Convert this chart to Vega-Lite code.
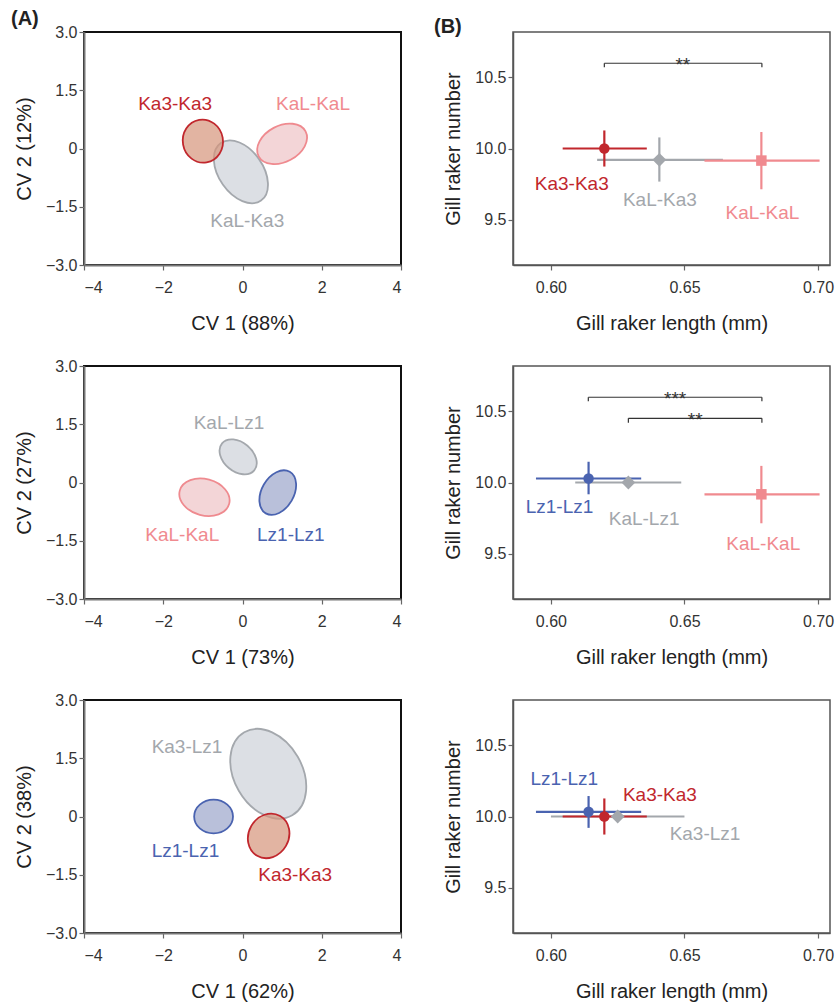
{
  "$schema": "https://vega.github.io/schema/vega-lite/v6.json",
  "background": "white",
  "padding": {"left": 10, "top": 8, "right": 2, "bottom": 2},
  "datasets": {
    "ell": [
      {"panel": 1, "id": "e1b", "group": "KaL-Ka3", "cv1": -0.04, "cv2": -0.60, "major": 1.77, "angle": 55},
      {"panel": 1, "id": "e1c", "group": "KaL-KaL", "cv1": 1.0, "cv2": 0.12, "major": 1.34, "angle": -28},
      {"panel": 1, "id": "e1a", "group": "Ka3-Ka3", "cv1": -1.0, "cv2": 0.19, "major": 1.09, "angle": 80},
      {"panel": 2, "id": "e2a", "group": "KaL-Lz1", "cv1": -0.11, "cv2": 0.66, "major": 1.06, "angle": 40},
      {"panel": 2, "id": "e2b", "group": "KaL-KaL", "cv1": -0.96, "cv2": -0.38, "major": 1.29, "angle": 15},
      {"panel": 2, "id": "e2c", "group": "Lz1-Lz1", "cv1": 0.89, "cv2": -0.26, "major": 1.21, "angle": -60},
      {"panel": 3, "id": "e3a", "group": "Ka3-Lz1", "cv1": 0.65, "cv2": 1.10, "major": 2.42, "angle": 60},
      {"panel": 3, "id": "e3b", "group": "Lz1-Lz1", "cv1": -0.73, "cv2": 0.0, "major": 0.98, "angle": 0},
      {"panel": 3, "id": "e3c", "group": "Ka3-Ka3", "cv1": 0.66, "cv2": -0.50, "major": 1.16, "angle": -60}
    ],
    "ellLab": [
      {"panel": 1, "group": "Ka3-Ka3", "cv1": -1.70, "cv2": 1.14},
      {"panel": 1, "group": "KaL-KaL", "cv1": 1.78, "cv2": 1.14},
      {"panel": 1, "group": "KaL-Ka3", "cv1": 0.12, "cv2": -1.86},
      {"panel": 2, "group": "KaL-Lz1", "cv1": -0.34, "cv2": 1.52},
      {"panel": 2, "group": "KaL-KaL", "cv1": -1.52, "cv2": -1.36},
      {"panel": 2, "group": "Lz1-Lz1", "cv1": 1.22, "cv2": -1.36},
      {"panel": 3, "group": "Ka3-Lz1", "cv1": -1.40, "cv2": 1.78},
      {"panel": 3, "group": "Lz1-Lz1", "cv1": -1.44, "cv2": -0.88},
      {"panel": 3, "group": "Ka3-Ka3", "cv1": 1.33, "cv2": -1.51}
    ],
    "pts": [
      {"panel": 1, "group": "KaL-Ka3", "len": 0.6406, "lenLo": 0.6173, "lenHi": 0.6644, "num": 9.92, "numLo": 9.767, "numHi": 10.078},
      {"panel": 1, "group": "KaL-KaL", "len": 0.6788, "lenLo": 0.6575, "lenHi": 0.7006, "num": 9.915, "numLo": 9.713, "numHi": 10.116},
      {"panel": 1, "group": "Ka3-Ka3", "len": 0.620, "lenLo": 0.6044, "lenHi": 0.6359, "num": 10.0, "numLo": 9.873, "numHi": 10.127},
      {"panel": 2, "group": "KaL-Lz1", "len": 0.629, "lenLo": 0.6091, "lenHi": 0.6488, "num": 10.0, "numLo": 9.995, "numHi": 10.005},
      {"panel": 2, "group": "KaL-KaL", "len": 0.6788, "lenLo": 0.6575, "lenHi": 0.7006, "num": 9.917, "numLo": 9.713, "numHi": 10.117},
      {"panel": 2, "group": "Lz1-Lz1", "len": 0.6141, "lenLo": 0.5944, "lenHi": 0.6338, "num": 10.028, "numLo": 9.917, "numHi": 10.146},
      {"panel": 3, "group": "Ka3-Lz1", "len": 0.625, "lenLo": 0.600, "lenHi": 0.650, "num": 10.0, "numLo": 9.995, "numHi": 10.005},
      {"panel": 3, "group": "Ka3-Ka3", "len": 0.620, "lenLo": 0.6044, "lenHi": 0.6359, "num": 10.0, "numLo": 9.873, "numHi": 10.127},
      {"panel": 3, "group": "Lz1-Lz1", "len": 0.6141, "lenLo": 0.5944, "lenHi": 0.6338, "num": 10.033, "numLo": 9.92, "numHi": 10.144}
    ],
    "ptsLab": [
      {"panel": 1, "group": "Ka3-Ka3", "len": 0.6078, "num": 9.749},
      {"panel": 1, "group": "KaL-Ka3", "len": 0.6408, "num": 9.638},
      {"panel": 1, "group": "KaL-KaL", "len": 0.6792, "num": 9.549},
      {"panel": 2, "group": "Lz1-Lz1", "len": 0.6032, "num": 9.829},
      {"panel": 2, "group": "KaL-Lz1", "len": 0.6349, "num": 9.743},
      {"panel": 2, "group": "KaL-KaL", "len": 0.6795, "num": 9.570},
      {"panel": 3, "group": "Lz1-Lz1", "len": 0.605, "num": 10.263},
      {"panel": 3, "group": "Ka3-Ka3", "len": 0.6408, "num": 10.153},
      {"panel": 3, "group": "Ka3-Lz1", "len": 0.6577, "num": 9.88}
    ],
    "sig": [
      {"panel": 1, "xa": 0.620, "xb": 0.679, "yb": 10.60, "yt": 10.572, "xs": 0.6494, "stars": "**"},
      {"panel": 2, "xa": 0.614, "xb": 0.679, "yb": 10.60, "yt": 10.572, "xs": 0.6465, "stars": "***"},
      {"panel": 2, "xa": 0.629, "xb": 0.679, "yb": 10.452, "yt": 10.42, "xs": 0.654, "stars": "**"}
    ]
  },
  "spacing": 23,
  "resolve": {"scale": {"shape": "independent", "size": "independent", "fill": "independent", "stroke": "independent"}},
  "vconcat": [
    {
      "spacing": 112,
      "bounds": "flush",
      "resolve": {"scale": {"shape": "independent", "size": "independent", "fill": "independent", "stroke": "independent"}},
      "hconcat": [
        {
          "width": 317, "height": 233,
          "title": {"text": "(A)", "frame": "group", "dx": -73, "offset": 0, "dy": 5},
          "view": {"stroke": "#111", "strokeWidth": 2},
          "layer": [
            {
              "data": {"name": "ell"},
              "transform": [{"filter": "datum.panel === 1"}],
              "mark": {"type": "point", "filled": true, "opacity": 1, "fillOpacity": 0.7, "strokeOpacity": 1, "strokeWidth": 1.8},
              "encoding": {
                "x": {"field": "cv1", "type": "quantitative", "scale": {"domain": [-4, 4], "nice": false, "zero": false}, "axis": {"title": "CV 1 (88%)", "values": [-4, -2, 0, 2, 4], "domainWidth": 2, "domainColor": "#777"}},
                "y": {"field": "cv2", "type": "quantitative", "scale": {"domain": [-3, 3], "nice": false, "zero": false}, "axis": {"title": "CV 2 (12%)", "values": [-3, -1.5, 0, 1.5, 3], "labelExpr": "datum.value === 0 ? '0' : format(datum.value, '.1f')", "domainWidth": 2, "domainColor": "#777"}},
                "shape": {"field": "id", "type": "nominal", "legend": null, "scale": {"domain": ["e1a", "e1b", "e1c", "e2a", "e2b", "e2c", "e3a", "e3b", "e3c"], "range": ["M-1,0A1,0.93,0,1,0,1,0A1,0.93,0,1,0,-1,0Z", "M-1,0A1,0.63,0,1,0,1,0A1,0.63,0,1,0,-1,0Z", "M-1,0A1,0.68,0,1,0,1,0A1,0.68,0,1,0,-1,0Z", "M-1,0A1,0.69,0,1,0,1,0A1,0.69,0,1,0,-1,0Z", "M-1,0A1,0.71,0,1,0,1,0A1,0.71,0,1,0,-1,0Z", "M-1,0A1,0.67,0,1,0,1,0A1,0.67,0,1,0,-1,0Z", "M-1,0A1,0.71,0,1,0,1,0A1,0.71,0,1,0,-1,0Z", "M-1,0A1,0.87,0,1,0,1,0A1,0.87,0,1,0,-1,0Z", "M-1,0A1,0.87,0,1,0,1,0A1,0.87,0,1,0,-1,0Z"]}},
                "size": {"field": "major", "type": "quantitative", "legend": null, "scale": {"type": "pow", "exponent": 2, "domain": [0, 8], "range": [0, 100489]}},
                "angle": {"field": "angle", "type": "quantitative", "scale": null},
                "fill": {"field": "group", "type": "nominal", "legend": null, "scale": {"domain": ["Ka3-Ka3", "KaL-KaL", "Lz1-Lz1", "KaL-Ka3", "KaL-Lz1", "Ka3-Lz1"], "range": ["#d6947a", "#eec3c6", "#9ba5ca", "#cdd1d8", "#cdd1d8", "#cdd1d8"]}},
                "stroke": {"field": "group", "type": "nominal", "legend": null, "scale": {"domain": ["Ka3-Ka3", "KaL-KaL", "Lz1-Lz1", "KaL-Ka3", "KaL-Lz1", "Ka3-Lz1"], "range": ["#c1272d", "#ef8a8f", "#4a63b0", "#a4a8ad", "#a4a8ad", "#a4a8ad"]}}
              }
            },
            {
              "data": {"name": "ellLab"},
              "transform": [{"filter": "datum.panel === 1"}],
              "mark": {"type": "text", "fontSize": 19, "baseline": "middle", "align": "center"},
              "encoding": {
                "x": {"field": "cv1", "type": "quantitative", "scale": {"domain": [-4, 4], "nice": false, "zero": false}, "axis": {"title": "CV 1 (88%)"}},
                "y": {"field": "cv2", "type": "quantitative", "scale": {"domain": [-3, 3], "nice": false, "zero": false}, "axis": {"title": "CV 2 (12%)"}},
                "text": {"field": "group"},
                "color": {"field": "group", "type": "nominal", "legend": null, "scale": {"domain": ["Ka3-Ka3", "KaL-KaL", "Lz1-Lz1", "KaL-Ka3", "KaL-Lz1", "Ka3-Lz1"], "range": ["#c1272d", "#f08a8f", "#4a63b0", "#a3a7ac", "#a3a7ac", "#a3a7ac"]}}
              }
            }
          ]
        },
        {
          "width": 317, "height": 233,
          "title": {"text": "(B)", "frame": "group", "dx": -79, "offset": 0, "dy": 5},
          "view": {"stroke": "#555", "strokeWidth": 1.5},
          "layer": [
            {
              "data": {"name": "pts"},
              "transform": [{"filter": "datum.panel === 1"}],
              "mark": {"type": "rule", "strokeWidth": 2.2},
              "encoding": {
                "x": {"field": "lenLo", "type": "quantitative", "scale": {"domain": [0.5858, 0.7045], "nice": false, "zero": false}, "axis": {"title": "Gill raker length (mm)", "values": [0.6, 0.65, 0.7], "format": ".2f"}},
                "x2": {"field": "lenHi"},
                "y": {"field": "num", "type": "quantitative", "scale": {"domain": [9.18, 10.82], "nice": false, "zero": false}, "axis": {"title": "Gill raker number", "values": [9.5, 10, 10.5], "format": ".1f"}},
                "color": {"field": "group", "type": "nominal", "legend": null, "scale": {"domain": ["Ka3-Ka3", "KaL-KaL", "Lz1-Lz1", "KaL-Ka3", "KaL-Lz1", "Ka3-Lz1"], "range": ["#c1272d", "#f08a8f", "#4a63b0", "#a3a7ac", "#a3a7ac", "#a3a7ac"]}}
              }
            },
            {
              "data": {"name": "pts"},
              "transform": [{"filter": "datum.panel === 1"}],
              "mark": {"type": "rule", "strokeWidth": 2.2},
              "encoding": {
                "x": {"field": "len", "type": "quantitative", "scale": {"domain": [0.5858, 0.7045], "nice": false, "zero": false}, "axis": {"title": "Gill raker length (mm)"}},
                "y": {"field": "numLo", "type": "quantitative", "scale": {"domain": [9.18, 10.82], "nice": false, "zero": false}, "axis": {"title": "Gill raker number"}},
                "y2": {"field": "numHi"},
                "color": {"field": "group", "type": "nominal", "legend": null, "scale": {"domain": ["Ka3-Ka3", "KaL-KaL", "Lz1-Lz1", "KaL-Ka3", "KaL-Lz1", "Ka3-Lz1"], "range": ["#c1272d", "#f08a8f", "#4a63b0", "#a3a7ac", "#a3a7ac", "#a3a7ac"]}}
              }
            },
            {
              "data": {"name": "pts"},
              "transform": [{"filter": "datum.panel === 1"}],
              "mark": {"type": "point", "filled": true, "opacity": 1, "size": 110},
              "encoding": {
                "x": {"field": "len", "type": "quantitative", "scale": {"domain": [0.5858, 0.7045], "nice": false, "zero": false}, "axis": {"title": "Gill raker length (mm)"}},
                "y": {"field": "num", "type": "quantitative", "scale": {"domain": [9.18, 10.82], "nice": false, "zero": false}, "axis": {"title": "Gill raker number"}},
                "shape": {"field": "group", "type": "nominal", "legend": null, "scale": {"domain": ["Ka3-Ka3", "KaL-KaL", "Lz1-Lz1", "KaL-Ka3", "KaL-Lz1", "Ka3-Lz1"], "range": ["circle", "square", "circle", "diamond", "diamond", "diamond"]}},
                "size": {"condition": {"test": "indexof(['KaL-Ka3','KaL-Lz1','Ka3-Lz1'], datum.group) >= 0", "value": 190}, "value": 110},
                "color": {"field": "group", "type": "nominal", "legend": null, "scale": {"domain": ["Ka3-Ka3", "KaL-KaL", "Lz1-Lz1", "KaL-Ka3", "KaL-Lz1", "Ka3-Lz1"], "range": ["#c1272d", "#f08a8f", "#4a63b0", "#9ca0a5", "#9ca0a5", "#9ca0a5"]}}
              }
            },
            {
              "data": {"name": "ptsLab"},
              "transform": [{"filter": "datum.panel === 1"}],
              "mark": {"type": "text", "fontSize": 19, "baseline": "middle", "align": "center"},
              "encoding": {
                "x": {"field": "len", "type": "quantitative", "scale": {"domain": [0.5858, 0.7045], "nice": false, "zero": false}, "axis": {"title": "Gill raker length (mm)"}},
                "y": {"field": "num", "type": "quantitative", "scale": {"domain": [9.18, 10.82], "nice": false, "zero": false}, "axis": {"title": "Gill raker number"}},
                "text": {"field": "group"},
                "color": {"field": "group", "type": "nominal", "legend": null, "scale": {"domain": ["Ka3-Ka3", "KaL-KaL", "Lz1-Lz1", "KaL-Ka3", "KaL-Lz1", "Ka3-Lz1"], "range": ["#c1272d", "#f08a8f", "#4a63b0", "#a3a7ac", "#a3a7ac", "#a3a7ac"]}}
              }
            },
            {
              "data": {"name": "sig"},
              "transform": [{"filter": "datum.panel === 1"}],
              "mark": {"type": "rule", "color": "#333", "strokeWidth": 1.2},
              "encoding": {
                "x": {"field": "xa", "type": "quantitative", "scale": {"domain": [0.5858, 0.7045], "nice": false, "zero": false}, "axis": {"title": "Gill raker length (mm)"}},
                "x2": {"field": "xb"},
                "y": {"field": "yb", "type": "quantitative", "scale": {"domain": [9.18, 10.82], "nice": false, "zero": false}, "axis": {"title": "Gill raker number"}}
              }
            },
            {
              "data": {"name": "sig"},
              "transform": [{"filter": "datum.panel === 1"}],
              "mark": {"type": "rule", "color": "#333", "strokeWidth": 1.2},
              "encoding": {
                "x": {"field": "xa", "type": "quantitative", "scale": {"domain": [0.5858, 0.7045], "nice": false, "zero": false}, "axis": {"title": "Gill raker length (mm)"}},
                "y": {"field": "yb", "type": "quantitative", "scale": {"domain": [9.18, 10.82], "nice": false, "zero": false}, "axis": {"title": "Gill raker number"}},
                "y2": {"field": "yt"}
              }
            },
            {
              "data": {"name": "sig"},
              "transform": [{"filter": "datum.panel === 1"}],
              "mark": {"type": "rule", "color": "#333", "strokeWidth": 1.2},
              "encoding": {
                "x": {"field": "xb", "type": "quantitative", "scale": {"domain": [0.5858, 0.7045], "nice": false, "zero": false}, "axis": {"title": "Gill raker length (mm)"}},
                "y": {"field": "yb", "type": "quantitative", "scale": {"domain": [9.18, 10.82], "nice": false, "zero": false}, "axis": {"title": "Gill raker number"}},
                "y2": {"field": "yt"}
              }
            },
            {
              "data": {"name": "sig"},
              "transform": [{"filter": "datum.panel === 1"}],
              "mark": {"type": "text", "fontSize": 19, "baseline": "alphabetic", "align": "center", "dy": 8, "color": "#333"},
              "encoding": {
                "x": {"field": "xs", "type": "quantitative", "scale": {"domain": [0.5858, 0.7045], "nice": false, "zero": false}, "axis": {"title": "Gill raker length (mm)"}},
                "y": {"field": "yb", "type": "quantitative", "scale": {"domain": [9.18, 10.82], "nice": false, "zero": false}, "axis": {"title": "Gill raker number"}},
                "text": {"field": "stars"}
              }
            }
          ]
        }
      ]
    },
    {
      "spacing": 112,
      "bounds": "flush",
      "resolve": {"scale": {"shape": "independent", "size": "independent", "fill": "independent", "stroke": "independent"}},
      "hconcat": [
        {
          "width": 317, "height": 233,
          "view": {"stroke": "#111", "strokeWidth": 2},
          "layer": [
            {
              "data": {"name": "ell"},
              "transform": [{"filter": "datum.panel === 2"}],
              "mark": {"type": "point", "filled": true, "opacity": 1, "fillOpacity": 0.7, "strokeOpacity": 1, "strokeWidth": 1.8},
              "encoding": {
                "x": {"field": "cv1", "type": "quantitative", "scale": {"domain": [-4, 4], "nice": false, "zero": false}, "axis": {"title": "CV 1 (73%)", "values": [-4, -2, 0, 2, 4], "domainWidth": 2, "domainColor": "#777"}},
                "y": {"field": "cv2", "type": "quantitative", "scale": {"domain": [-3, 3], "nice": false, "zero": false}, "axis": {"title": "CV 2 (27%)", "values": [-3, -1.5, 0, 1.5, 3], "labelExpr": "datum.value === 0 ? '0' : format(datum.value, '.1f')", "domainWidth": 2, "domainColor": "#777"}},
                "shape": {"field": "id", "type": "nominal", "legend": null, "scale": {"domain": ["e1a", "e1b", "e1c", "e2a", "e2b", "e2c", "e3a", "e3b", "e3c"], "range": ["M-1,0A1,0.93,0,1,0,1,0A1,0.93,0,1,0,-1,0Z", "M-1,0A1,0.63,0,1,0,1,0A1,0.63,0,1,0,-1,0Z", "M-1,0A1,0.68,0,1,0,1,0A1,0.68,0,1,0,-1,0Z", "M-1,0A1,0.69,0,1,0,1,0A1,0.69,0,1,0,-1,0Z", "M-1,0A1,0.71,0,1,0,1,0A1,0.71,0,1,0,-1,0Z", "M-1,0A1,0.67,0,1,0,1,0A1,0.67,0,1,0,-1,0Z", "M-1,0A1,0.71,0,1,0,1,0A1,0.71,0,1,0,-1,0Z", "M-1,0A1,0.87,0,1,0,1,0A1,0.87,0,1,0,-1,0Z", "M-1,0A1,0.87,0,1,0,1,0A1,0.87,0,1,0,-1,0Z"]}},
                "size": {"field": "major", "type": "quantitative", "legend": null, "scale": {"type": "pow", "exponent": 2, "domain": [0, 8], "range": [0, 100489]}},
                "angle": {"field": "angle", "type": "quantitative", "scale": null},
                "fill": {"field": "group", "type": "nominal", "legend": null, "scale": {"domain": ["Ka3-Ka3", "KaL-KaL", "Lz1-Lz1", "KaL-Ka3", "KaL-Lz1", "Ka3-Lz1"], "range": ["#d6947a", "#eec3c6", "#9ba5ca", "#cdd1d8", "#cdd1d8", "#cdd1d8"]}},
                "stroke": {"field": "group", "type": "nominal", "legend": null, "scale": {"domain": ["Ka3-Ka3", "KaL-KaL", "Lz1-Lz1", "KaL-Ka3", "KaL-Lz1", "Ka3-Lz1"], "range": ["#c1272d", "#ef8a8f", "#4a63b0", "#a4a8ad", "#a4a8ad", "#a4a8ad"]}}
              }
            },
            {
              "data": {"name": "ellLab"},
              "transform": [{"filter": "datum.panel === 2"}],
              "mark": {"type": "text", "fontSize": 19, "baseline": "middle", "align": "center"},
              "encoding": {
                "x": {"field": "cv1", "type": "quantitative", "scale": {"domain": [-4, 4], "nice": false, "zero": false}, "axis": {"title": "CV 1 (73%)"}},
                "y": {"field": "cv2", "type": "quantitative", "scale": {"domain": [-3, 3], "nice": false, "zero": false}, "axis": {"title": "CV 2 (27%)"}},
                "text": {"field": "group"},
                "color": {"field": "group", "type": "nominal", "legend": null, "scale": {"domain": ["Ka3-Ka3", "KaL-KaL", "Lz1-Lz1", "KaL-Ka3", "KaL-Lz1", "Ka3-Lz1"], "range": ["#c1272d", "#f08a8f", "#4a63b0", "#a3a7ac", "#a3a7ac", "#a3a7ac"]}}
              }
            }
          ]
        },
        {
          "width": 317, "height": 233,
          "view": {"stroke": "#555", "strokeWidth": 1.5},
          "layer": [
            {
              "data": {"name": "pts"},
              "transform": [{"filter": "datum.panel === 2"}],
              "mark": {"type": "rule", "strokeWidth": 2.2},
              "encoding": {
                "x": {"field": "lenLo", "type": "quantitative", "scale": {"domain": [0.5858, 0.7045], "nice": false, "zero": false}, "axis": {"title": "Gill raker length (mm)", "values": [0.6, 0.65, 0.7], "format": ".2f"}},
                "x2": {"field": "lenHi"},
                "y": {"field": "num", "type": "quantitative", "scale": {"domain": [9.18, 10.82], "nice": false, "zero": false}, "axis": {"title": "Gill raker number", "values": [9.5, 10, 10.5], "format": ".1f"}},
                "color": {"field": "group", "type": "nominal", "legend": null, "scale": {"domain": ["Ka3-Ka3", "KaL-KaL", "Lz1-Lz1", "KaL-Ka3", "KaL-Lz1", "Ka3-Lz1"], "range": ["#c1272d", "#f08a8f", "#4a63b0", "#a3a7ac", "#a3a7ac", "#a3a7ac"]}}
              }
            },
            {
              "data": {"name": "pts"},
              "transform": [{"filter": "datum.panel === 2"}],
              "mark": {"type": "rule", "strokeWidth": 2.2},
              "encoding": {
                "x": {"field": "len", "type": "quantitative", "scale": {"domain": [0.5858, 0.7045], "nice": false, "zero": false}, "axis": {"title": "Gill raker length (mm)"}},
                "y": {"field": "numLo", "type": "quantitative", "scale": {"domain": [9.18, 10.82], "nice": false, "zero": false}, "axis": {"title": "Gill raker number"}},
                "y2": {"field": "numHi"},
                "color": {"field": "group", "type": "nominal", "legend": null, "scale": {"domain": ["Ka3-Ka3", "KaL-KaL", "Lz1-Lz1", "KaL-Ka3", "KaL-Lz1", "Ka3-Lz1"], "range": ["#c1272d", "#f08a8f", "#4a63b0", "#a3a7ac", "#a3a7ac", "#a3a7ac"]}}
              }
            },
            {
              "data": {"name": "pts"},
              "transform": [{"filter": "datum.panel === 2"}],
              "mark": {"type": "point", "filled": true, "opacity": 1, "size": 110},
              "encoding": {
                "x": {"field": "len", "type": "quantitative", "scale": {"domain": [0.5858, 0.7045], "nice": false, "zero": false}, "axis": {"title": "Gill raker length (mm)"}},
                "y": {"field": "num", "type": "quantitative", "scale": {"domain": [9.18, 10.82], "nice": false, "zero": false}, "axis": {"title": "Gill raker number"}},
                "shape": {"field": "group", "type": "nominal", "legend": null, "scale": {"domain": ["Ka3-Ka3", "KaL-KaL", "Lz1-Lz1", "KaL-Ka3", "KaL-Lz1", "Ka3-Lz1"], "range": ["circle", "square", "circle", "diamond", "diamond", "diamond"]}},
                "size": {"condition": {"test": "indexof(['KaL-Ka3','KaL-Lz1','Ka3-Lz1'], datum.group) >= 0", "value": 190}, "value": 110},
                "color": {"field": "group", "type": "nominal", "legend": null, "scale": {"domain": ["Ka3-Ka3", "KaL-KaL", "Lz1-Lz1", "KaL-Ka3", "KaL-Lz1", "Ka3-Lz1"], "range": ["#c1272d", "#f08a8f", "#4a63b0", "#9ca0a5", "#9ca0a5", "#9ca0a5"]}}
              }
            },
            {
              "data": {"name": "ptsLab"},
              "transform": [{"filter": "datum.panel === 2"}],
              "mark": {"type": "text", "fontSize": 19, "baseline": "middle", "align": "center"},
              "encoding": {
                "x": {"field": "len", "type": "quantitative", "scale": {"domain": [0.5858, 0.7045], "nice": false, "zero": false}, "axis": {"title": "Gill raker length (mm)"}},
                "y": {"field": "num", "type": "quantitative", "scale": {"domain": [9.18, 10.82], "nice": false, "zero": false}, "axis": {"title": "Gill raker number"}},
                "text": {"field": "group"},
                "color": {"field": "group", "type": "nominal", "legend": null, "scale": {"domain": ["Ka3-Ka3", "KaL-KaL", "Lz1-Lz1", "KaL-Ka3", "KaL-Lz1", "Ka3-Lz1"], "range": ["#c1272d", "#f08a8f", "#4a63b0", "#a3a7ac", "#a3a7ac", "#a3a7ac"]}}
              }
            },
            {
              "data": {"name": "sig"},
              "transform": [{"filter": "datum.panel === 2"}],
              "mark": {"type": "rule", "color": "#333", "strokeWidth": 1.2},
              "encoding": {
                "x": {"field": "xa", "type": "quantitative", "scale": {"domain": [0.5858, 0.7045], "nice": false, "zero": false}, "axis": {"title": "Gill raker length (mm)"}},
                "x2": {"field": "xb"},
                "y": {"field": "yb", "type": "quantitative", "scale": {"domain": [9.18, 10.82], "nice": false, "zero": false}, "axis": {"title": "Gill raker number"}}
              }
            },
            {
              "data": {"name": "sig"},
              "transform": [{"filter": "datum.panel === 2"}],
              "mark": {"type": "rule", "color": "#333", "strokeWidth": 1.2},
              "encoding": {
                "x": {"field": "xa", "type": "quantitative", "scale": {"domain": [0.5858, 0.7045], "nice": false, "zero": false}, "axis": {"title": "Gill raker length (mm)"}},
                "y": {"field": "yb", "type": "quantitative", "scale": {"domain": [9.18, 10.82], "nice": false, "zero": false}, "axis": {"title": "Gill raker number"}},
                "y2": {"field": "yt"}
              }
            },
            {
              "data": {"name": "sig"},
              "transform": [{"filter": "datum.panel === 2"}],
              "mark": {"type": "rule", "color": "#333", "strokeWidth": 1.2},
              "encoding": {
                "x": {"field": "xb", "type": "quantitative", "scale": {"domain": [0.5858, 0.7045], "nice": false, "zero": false}, "axis": {"title": "Gill raker length (mm)"}},
                "y": {"field": "yb", "type": "quantitative", "scale": {"domain": [9.18, 10.82], "nice": false, "zero": false}, "axis": {"title": "Gill raker number"}},
                "y2": {"field": "yt"}
              }
            },
            {
              "data": {"name": "sig"},
              "transform": [{"filter": "datum.panel === 2"}],
              "mark": {"type": "text", "fontSize": 19, "baseline": "alphabetic", "align": "center", "dy": 8, "color": "#333"},
              "encoding": {
                "x": {"field": "xs", "type": "quantitative", "scale": {"domain": [0.5858, 0.7045], "nice": false, "zero": false}, "axis": {"title": "Gill raker length (mm)"}},
                "y": {"field": "yb", "type": "quantitative", "scale": {"domain": [9.18, 10.82], "nice": false, "zero": false}, "axis": {"title": "Gill raker number"}},
                "text": {"field": "stars"}
              }
            }
          ]
        }
      ]
    },
    {
      "spacing": 112,
      "bounds": "flush",
      "resolve": {"scale": {"shape": "independent", "size": "independent", "fill": "independent", "stroke": "independent"}},
      "hconcat": [
        {
          "width": 317, "height": 233,
          "view": {"stroke": "#111", "strokeWidth": 2},
          "layer": [
            {
              "data": {"name": "ell"},
              "transform": [{"filter": "datum.panel === 3"}],
              "mark": {"type": "point", "filled": true, "opacity": 1, "fillOpacity": 0.7, "strokeOpacity": 1, "strokeWidth": 1.8},
              "encoding": {
                "x": {"field": "cv1", "type": "quantitative", "scale": {"domain": [-4, 4], "nice": false, "zero": false}, "axis": {"title": "CV 1 (62%)", "values": [-4, -2, 0, 2, 4], "domainWidth": 2, "domainColor": "#777"}},
                "y": {"field": "cv2", "type": "quantitative", "scale": {"domain": [-3, 3], "nice": false, "zero": false}, "axis": {"title": "CV 2 (38%)", "values": [-3, -1.5, 0, 1.5, 3], "labelExpr": "datum.value === 0 ? '0' : format(datum.value, '.1f')", "domainWidth": 2, "domainColor": "#777"}},
                "shape": {"field": "id", "type": "nominal", "legend": null, "scale": {"domain": ["e1a", "e1b", "e1c", "e2a", "e2b", "e2c", "e3a", "e3b", "e3c"], "range": ["M-1,0A1,0.93,0,1,0,1,0A1,0.93,0,1,0,-1,0Z", "M-1,0A1,0.63,0,1,0,1,0A1,0.63,0,1,0,-1,0Z", "M-1,0A1,0.68,0,1,0,1,0A1,0.68,0,1,0,-1,0Z", "M-1,0A1,0.69,0,1,0,1,0A1,0.69,0,1,0,-1,0Z", "M-1,0A1,0.71,0,1,0,1,0A1,0.71,0,1,0,-1,0Z", "M-1,0A1,0.67,0,1,0,1,0A1,0.67,0,1,0,-1,0Z", "M-1,0A1,0.71,0,1,0,1,0A1,0.71,0,1,0,-1,0Z", "M-1,0A1,0.87,0,1,0,1,0A1,0.87,0,1,0,-1,0Z", "M-1,0A1,0.87,0,1,0,1,0A1,0.87,0,1,0,-1,0Z"]}},
                "size": {"field": "major", "type": "quantitative", "legend": null, "scale": {"type": "pow", "exponent": 2, "domain": [0, 8], "range": [0, 100489]}},
                "angle": {"field": "angle", "type": "quantitative", "scale": null},
                "fill": {"field": "group", "type": "nominal", "legend": null, "scale": {"domain": ["Ka3-Ka3", "KaL-KaL", "Lz1-Lz1", "KaL-Ka3", "KaL-Lz1", "Ka3-Lz1"], "range": ["#d6947a", "#eec3c6", "#9ba5ca", "#cdd1d8", "#cdd1d8", "#cdd1d8"]}},
                "stroke": {"field": "group", "type": "nominal", "legend": null, "scale": {"domain": ["Ka3-Ka3", "KaL-KaL", "Lz1-Lz1", "KaL-Ka3", "KaL-Lz1", "Ka3-Lz1"], "range": ["#c1272d", "#ef8a8f", "#4a63b0", "#a4a8ad", "#a4a8ad", "#a4a8ad"]}}
              }
            },
            {
              "data": {"name": "ellLab"},
              "transform": [{"filter": "datum.panel === 3"}],
              "mark": {"type": "text", "fontSize": 19, "baseline": "middle", "align": "center"},
              "encoding": {
                "x": {"field": "cv1", "type": "quantitative", "scale": {"domain": [-4, 4], "nice": false, "zero": false}, "axis": {"title": "CV 1 (62%)"}},
                "y": {"field": "cv2", "type": "quantitative", "scale": {"domain": [-3, 3], "nice": false, "zero": false}, "axis": {"title": "CV 2 (38%)"}},
                "text": {"field": "group"},
                "color": {"field": "group", "type": "nominal", "legend": null, "scale": {"domain": ["Ka3-Ka3", "KaL-KaL", "Lz1-Lz1", "KaL-Ka3", "KaL-Lz1", "Ka3-Lz1"], "range": ["#c1272d", "#f08a8f", "#4a63b0", "#a3a7ac", "#a3a7ac", "#a3a7ac"]}}
              }
            }
          ]
        },
        {
          "width": 317, "height": 233,
          "view": {"stroke": "#555", "strokeWidth": 1.5},
          "layer": [
            {
              "data": {"name": "pts"},
              "transform": [{"filter": "datum.panel === 3"}],
              "mark": {"type": "rule", "strokeWidth": 2.2},
              "encoding": {
                "x": {"field": "lenLo", "type": "quantitative", "scale": {"domain": [0.5858, 0.7045], "nice": false, "zero": false}, "axis": {"title": "Gill raker length (mm)", "values": [0.6, 0.65, 0.7], "format": ".2f"}},
                "x2": {"field": "lenHi"},
                "y": {"field": "num", "type": "quantitative", "scale": {"domain": [9.18, 10.82], "nice": false, "zero": false}, "axis": {"title": "Gill raker number", "values": [9.5, 10, 10.5], "format": ".1f"}},
                "color": {"field": "group", "type": "nominal", "legend": null, "scale": {"domain": ["Ka3-Ka3", "KaL-KaL", "Lz1-Lz1", "KaL-Ka3", "KaL-Lz1", "Ka3-Lz1"], "range": ["#c1272d", "#f08a8f", "#4a63b0", "#a3a7ac", "#a3a7ac", "#a3a7ac"]}}
              }
            },
            {
              "data": {"name": "pts"},
              "transform": [{"filter": "datum.panel === 3"}],
              "mark": {"type": "rule", "strokeWidth": 2.2},
              "encoding": {
                "x": {"field": "len", "type": "quantitative", "scale": {"domain": [0.5858, 0.7045], "nice": false, "zero": false}, "axis": {"title": "Gill raker length (mm)"}},
                "y": {"field": "numLo", "type": "quantitative", "scale": {"domain": [9.18, 10.82], "nice": false, "zero": false}, "axis": {"title": "Gill raker number"}},
                "y2": {"field": "numHi"},
                "color": {"field": "group", "type": "nominal", "legend": null, "scale": {"domain": ["Ka3-Ka3", "KaL-KaL", "Lz1-Lz1", "KaL-Ka3", "KaL-Lz1", "Ka3-Lz1"], "range": ["#c1272d", "#f08a8f", "#4a63b0", "#a3a7ac", "#a3a7ac", "#a3a7ac"]}}
              }
            },
            {
              "data": {"name": "pts"},
              "transform": [{"filter": "datum.panel === 3"}],
              "mark": {"type": "point", "filled": true, "opacity": 1, "size": 110},
              "encoding": {
                "x": {"field": "len", "type": "quantitative", "scale": {"domain": [0.5858, 0.7045], "nice": false, "zero": false}, "axis": {"title": "Gill raker length (mm)"}},
                "y": {"field": "num", "type": "quantitative", "scale": {"domain": [9.18, 10.82], "nice": false, "zero": false}, "axis": {"title": "Gill raker number"}},
                "shape": {"field": "group", "type": "nominal", "legend": null, "scale": {"domain": ["Ka3-Ka3", "KaL-KaL", "Lz1-Lz1", "KaL-Ka3", "KaL-Lz1", "Ka3-Lz1"], "range": ["circle", "square", "circle", "diamond", "diamond", "diamond"]}},
                "size": {"condition": {"test": "indexof(['KaL-Ka3','KaL-Lz1','Ka3-Lz1'], datum.group) >= 0", "value": 190}, "value": 110},
                "color": {"field": "group", "type": "nominal", "legend": null, "scale": {"domain": ["Ka3-Ka3", "KaL-KaL", "Lz1-Lz1", "KaL-Ka3", "KaL-Lz1", "Ka3-Lz1"], "range": ["#c1272d", "#f08a8f", "#4a63b0", "#9ca0a5", "#9ca0a5", "#9ca0a5"]}}
              }
            },
            {
              "data": {"name": "ptsLab"},
              "transform": [{"filter": "datum.panel === 3"}],
              "mark": {"type": "text", "fontSize": 19, "baseline": "middle", "align": "center"},
              "encoding": {
                "x": {"field": "len", "type": "quantitative", "scale": {"domain": [0.5858, 0.7045], "nice": false, "zero": false}, "axis": {"title": "Gill raker length (mm)"}},
                "y": {"field": "num", "type": "quantitative", "scale": {"domain": [9.18, 10.82], "nice": false, "zero": false}, "axis": {"title": "Gill raker number"}},
                "text": {"field": "group"},
                "color": {"field": "group", "type": "nominal", "legend": null, "scale": {"domain": ["Ka3-Ka3", "KaL-KaL", "Lz1-Lz1", "KaL-Ka3", "KaL-Lz1", "Ka3-Lz1"], "range": ["#c1272d", "#f08a8f", "#4a63b0", "#a3a7ac", "#a3a7ac", "#a3a7ac"]}}
              }
            }
          ]
        }
      ]
    }
  ],
  "config": {
    "font": "Liberation Sans",
    "view": {"stroke": "#555"},
    "title": {"font": "Liberation Sans", "fontSize": 20, "fontWeight": "bold", "anchor": "start", "color": "#222"},
    "axis": {"labelFont": "Liberation Sans", "titleFont": "Liberation Sans", "labelFontSize": 16, "titleFontSize": 20, "titleFontWeight": "normal", "labelColor": "#333", "titleColor": "#222", "tickColor": "#666", "domainColor": "#555", "domainWidth": 1.5, "tickSize": 5, "tickWidth": 1.2, "grid": false},
    "axisX": {"labelPadding": 9, "titlePadding": 18},
    "axisY": {"labelPadding": 2, "titlePadding": 11}
  }
}
